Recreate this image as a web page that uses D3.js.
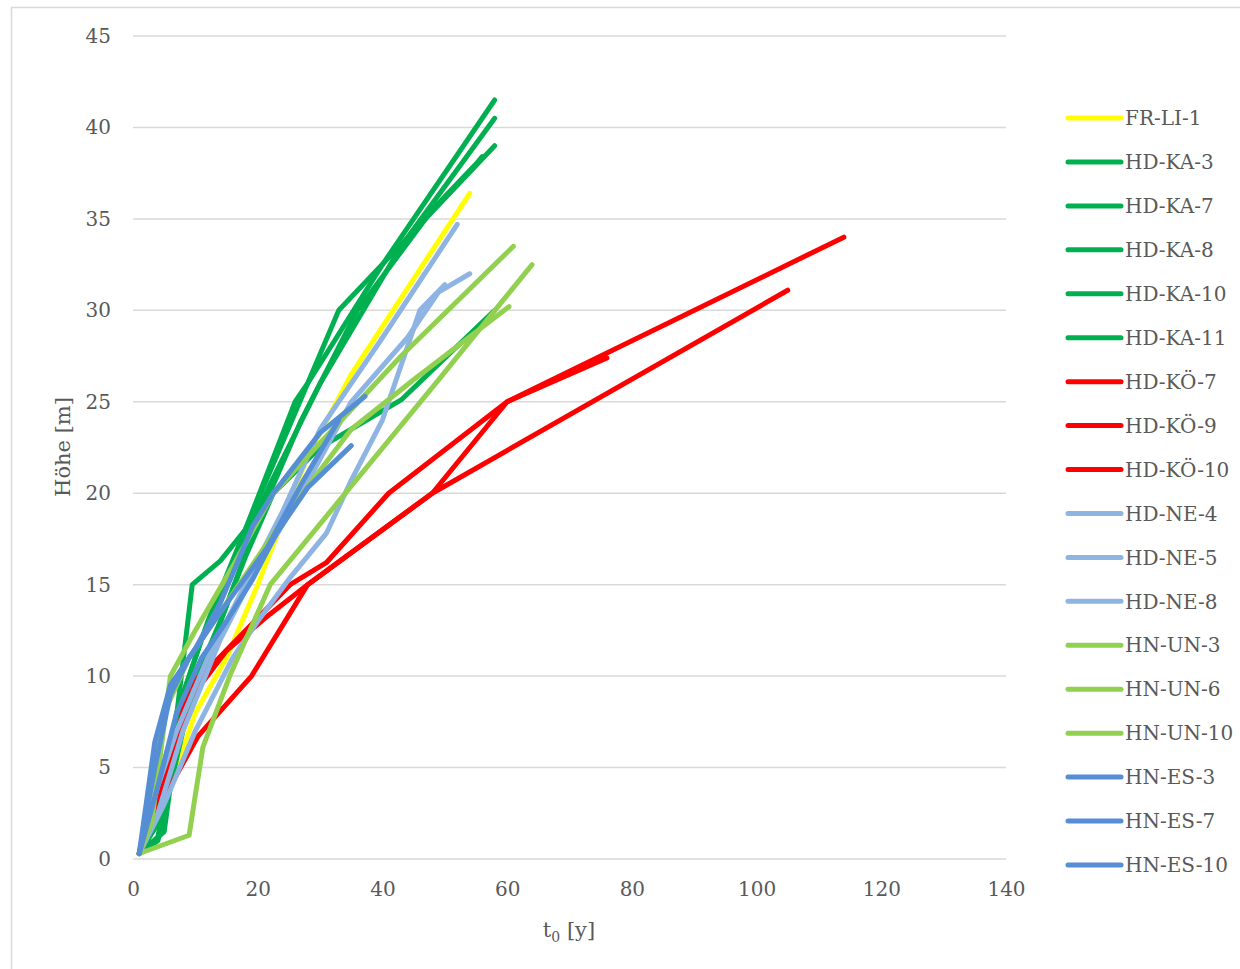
<!DOCTYPE html>
<html><head><meta charset="utf-8">
<script src="https://cdn.jsdelivr.net/npm/d3@7/dist/d3.min.js"></script>
<style>body{margin:0;background:#fff;}svg{display:block;}</style>
</head><body>
<svg id="c" width="1240" height="969"></svg>
<script>
// ---- data (age t0 [y], height [m]) ----
const seriesNames = ["FR-LI-1","HD-KA-3","HD-KA-7","HD-KA-8","HD-KA-10","HD-KA-11","HD-KÖ-7","HD-KÖ-9","HD-KÖ-10","HD-NE-4","HD-NE-5","HD-NE-8","HN-UN-3","HN-UN-6","HN-UN-10","HN-ES-3","HN-ES-7","HN-ES-10"];
const seriesColors = ["#FFFF00","#00B050","#00B050","#00B050","#00B050","#00B050","#FF0000","#FF0000","#FF0000","#8EB4E3","#8EB4E3","#8EB4E3","#92D050","#92D050","#92D050","#558ED5","#558ED5","#558ED5"];

const FR_LI_1_t = [1,5,10,15,20,28,35,54];
const FR_LI_1_h = [0.3,3,8,11,15,22,26.5,36.4];

const HD_KA_3_t = [1,4,6,9.5,14,18,26,28,33,58];
const HD_KA_3_h = [0.3,1.2,5,15,16.3,18,25,26,30,39];
const HD_KA_7_t = [1,5,8,12,18,23,28,40,58];
const HD_KA_7_h = [0.3,1.5,9,13,18,22,26,32.5,41.5];
const HD_KA_8_t = [1,4,7,11,16,22,30,43,58];
const HD_KA_8_h = [0.3,2,8,12,16,20.5,26,33.5,40.5];
const HD_KA_10_t = [1,5,9,14,18,22.5,30,43,58];
const HD_KA_10_h = [0.3,2.5,9,13,16.5,20,22.5,25.1,30];
const HD_KA_11_t = [1,4,8,13,20,27,36,48,55,56];
const HD_KA_11_h = [0.3,1,7,12,18.5,24,30,35.5,38,38.4];

const HD_KO_7_t = [1,5,9,13.5,25.2,31,41,60,76];
const HD_KO_7_h = [0.3,4,9.4,10.9,15,16.2,20,25,27.4];
const HD_KO_9_t = [1,6,10.4,19,28,48,60,114];
const HD_KO_9_h = [0.3,4,6.7,10,15,20,25,34];
const HD_KO_10_t = [1,5,9,15,22,28,48,105];
const HD_KO_10_h = [0.3,4.5,8.7,11.4,13.4,15,20,31.1];

const HD_NE_4_t = [1,4,7,12,18,24,30,40,52];
const HD_NE_4_h = [0.3,4,7,11,15,19,23.5,28.5,34.7];
const HD_NE_5_t = [1,5,10,16,20,25,31,35,40,46,50];
const HD_NE_5_h = [0.3,3,7,11,13,15.3,17.8,20.7,24,30,31.4];
const HD_NE_8_t = [1,4,8,14,20,27,35,44,49,54];
const HD_NE_8_h = [0.3,2.5,7,12,16,20,25,28.5,31,32];

const HN_UN_3_t = [1,3,6,10,16,22.5,43,61];
const HN_UN_3_h = [0.3,2,10,12.5,16,20,27.5,33.5];
const HN_UN_6_t = [1,9,10,11.2,15.5,22,49,64];
const HN_UN_6_h = [0.3,1.3,3.5,6.1,10,15,26.2,32.5];
const HN_UN_10_t = [1,2,5,9,15,25,35,45,60.3];
const HN_UN_10_h = [0.3,2,8,11,14,19,23.5,26.2,30.2];

const HN_ES_3_t = [1,3.5,6,10,14,19.2,22.5,30,37.2];
const HN_ES_3_h = [0.3,6.4,9.5,11.5,14,18.2,20,23.3,25.3];
const HN_ES_7_t = [1,4,7,11,15,19.2,23,28,35];
const HN_ES_7_h = [0.3,4,8,11,13,15.3,17.8,20.3,22.6];
const HN_ES_10_t = [1,3.5,6,9,14,21.5,27,33];
const HN_ES_10_h = [0.3,5,9,11,13.5,17,20.5,24];

const seriesT = [FR_LI_1_t,HD_KA_3_t,HD_KA_7_t,HD_KA_8_t,HD_KA_10_t,HD_KA_11_t,HD_KO_7_t,HD_KO_9_t,HD_KO_10_t,HD_NE_4_t,HD_NE_5_t,HD_NE_8_t,HN_UN_3_t,HN_UN_6_t,HN_UN_10_t,HN_ES_3_t,HN_ES_7_t,HN_ES_10_t];
const seriesH = [FR_LI_1_h,HD_KA_3_h,HD_KA_7_h,HD_KA_8_h,HD_KA_10_h,HD_KA_11_h,HD_KO_7_h,HD_KO_9_h,HD_KO_10_h,HD_NE_4_h,HD_NE_5_h,HD_NE_8_h,HN_UN_3_h,HN_UN_6_h,HN_UN_10_h,HN_ES_3_h,HN_ES_7_h,HN_ES_10_h];

const xTicks = [0,20,40,60,80,100,120,140];
const yTicks = [0,5,10,15,20,25,30,35,40,45];

// ---- drawing ----
const svg = d3.select("#c");
const font = "'DejaVu Serif', serif";
const txtCol = "#595959";
const x = d3.scaleLinear().domain([0,140]).range([133,1006]);
const y = d3.scaleLinear().domain([0,45]).range([859,36]);

svg.append("rect").attr("x",11.5).attr("y",7.5).attr("width",1240).attr("height",969)
  .attr("fill","none").attr("stroke","#d9d9d9").attr("stroke-width",1.5);

// gridlines
svg.append("g").selectAll("line").data(yTicks).join("line")
  .attr("x1",x(0)).attr("x2",x(140)).attr("y1",d=>y(d)).attr("y2",d=>y(d))
  .attr("stroke","#d9d9d9").attr("stroke-width",1.5);

// y axis labels
const yAxis = d3.axisLeft(y).tickValues(yTicks).tickSize(0).tickPadding(22);
const gy = svg.append("g").attr("transform",`translate(${x(0)},0)`).call(yAxis);
gy.select(".domain").remove();
gy.selectAll("text").attr("font-family",font).attr("font-size",20).attr("fill",txtCol);

// x axis labels
const xAxis = d3.axisBottom(x).tickValues(xTicks).tickSize(0).tickPadding(23);
const gx = svg.append("g").attr("transform",`translate(0,${y(0)})`).call(xAxis);
gx.select(".domain").remove();
gx.selectAll("text").attr("font-family",font).attr("font-size",20).attr("fill",txtCol);

// axis titles
const xt = svg.append("text").attr("x",569).attr("y",937).attr("text-anchor","middle")
  .attr("font-family",font).attr("font-size",21).attr("fill",txtCol);
xt.append("tspan").text("t");
xt.append("tspan").attr("font-size",14).attr("dy",5).text("0");
xt.append("tspan").attr("dy",-5).text(" [y]");

svg.append("text").attr("transform",`translate(70,447) rotate(-90)`).attr("text-anchor","middle")
  .attr("font-family",font).attr("font-size",21).attr("fill",txtCol).text("Höhe [m]");

// series lines
const line = d3.line().x(d=>x(d[0])).y(d=>y(d[1]));
const gl = svg.append("g");
seriesNames.forEach((n,i)=>{
  const pts = seriesT[i].map((t,j)=>[t,seriesH[i][j]]);
  gl.append("path").datum(pts).attr("d",line).attr("fill","none")
    .attr("stroke",seriesColors[i]).attr("stroke-width",5)
    .attr("stroke-linejoin","round").attr("stroke-linecap","round");
});

// legend
const lg = svg.append("g");
seriesNames.forEach((n,i)=>{
  const yy = 118 + i*43.94;
  lg.append("line").attr("x1",1068).attr("x2",1121).attr("y1",yy).attr("y2",yy)
    .attr("stroke",seriesColors[i]).attr("stroke-width",5).attr("stroke-linecap","round");
  lg.append("text").attr("x",1125).attr("y",yy).attr("dy","0.36em")
    .attr("font-family",font).attr("font-size",20).attr("fill",txtCol).text(n);
});
</script>
</body></html>
